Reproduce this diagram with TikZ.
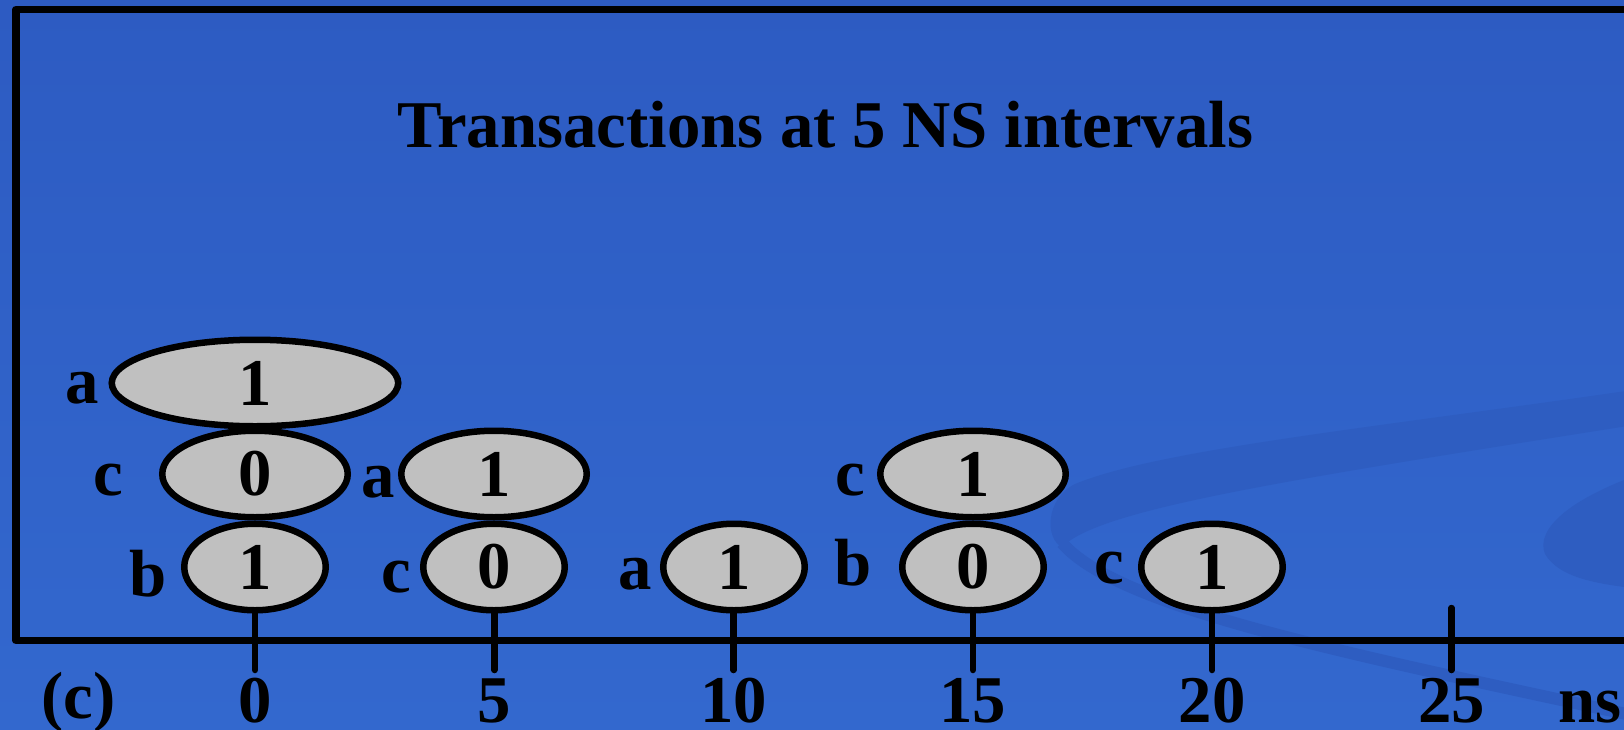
\documentclass[tikz,border=0pt]{standalone}
\usepackage{fontspec}
\setmainfont{Liberation Serif}
\usepackage{xcolor}
\usepackage{tikz}
\usetikzlibrary{shapes.geometric}

\definecolor{slidetop}{RGB}{45,91,194}
\definecolor{slidebot}{RGB}{51,104,206}
\definecolor{swoosh}{RGB}{46,93,193}
\definecolor{slotgray}{RGB}{192,192,192}

\begin{document}
\begin{tikzpicture}[
  big/.style={font=\fontsize{19}{23}\selectfont\bfseries},
  slot/.style={
    draw,
    ellipse,
    big,
    fill=slotgray,
    line width=0.65mm,
    minimum height=8.65mm,
    inner sep=0pt
  },
  smallslot/.style={slot, minimum width=14.15mm},
  midslot/.style={slot, minimum width=18.55mm},
  wideslot/.style={slot, minimum width=28.65mm},
  wirelabel/.style={big, anchor=base, inner sep=0pt},
  frame/.style={line width=0.75mm, line join=round},
  tickmark/.style={line width=0.65mm, line cap=round}
]

\path[use as bounding box] (0,0) rectangle (16.24,7.29);

% slide background
\fill[top color=slidetop, bottom color=slidebot] (0,0) rectangle (16.24,7.29);
\fill[swoosh] (16.4,3.40) .. controls (13.8,3.02) and (11.6,2.80) .. (10.75,2.45)
  .. controls (10.45,2.30) and (10.45,1.90) .. (10.62,1.82)
  .. controls (11.0,2.20) and (12.8,2.48) .. (16.4,3.05) -- cycle;
\draw[swoosh, line width=1.2mm] (10.62,1.86) .. controls (11.2,1.2) and (13.5,0.75) .. (16.4,0.12);
\fill[swoosh] (16.4,2.55) .. controls (15.7,2.30) and (15.35,2.00) .. (15.45,1.75)
  .. controls (15.6,1.50) and (16.0,1.45) .. (16.4,1.40) -- cycle;

\node[big, anchor=base] (heading) at (8.255,5.82) {Transactions at 5 NS intervals};

% time axis
\draw[frame] (16.5,7.195) -- (0.16,7.195) -- (0.16,0.885) -- (16.5,0.885);

\foreach \t [count=\i from 0] in {0,5,10,15,20,25} {
  \draw[tickmark] ({2.55+2.393*\i},1.21) -- ({2.55+2.393*\i},0.59);
  \node[wirelabel] (ns\t) at ({2.55+2.393*\i},0.065) {\t};
}
\node[wirelabel] (part) at (0.785,0.11) {(c)};
\node[wirelabel] (unit) at (15.90,0.065) {ns};

% transactions
\node[wideslot] (a0) at (2.55,3.46) {1};
\node[midslot] (c0) at (2.55,2.55) {0};
\node[smallslot] (b0) at (2.55,1.62) {1};

\node[midslot] (a5) at (4.94,2.55) {1};
\node[smallslot] (c5) at (4.94,1.62) {0};

\node[smallslot] (a10) at (7.34,1.62) {1};

\node[midslot] (c15) at (9.73,2.55) {1};
\node[smallslot] (b15) at (9.73,1.62) {0};

\node[smallslot] (c20) at (12.12,1.62) {1};

\node[wirelabel] (la0) at (0.82,3.26) {a};
\node[wirelabel] (lc0) at (1.08,2.34) {c};
\node[wirelabel] (lb0) at (1.48,1.33) {b};
\node[wirelabel] (la5) at (3.78,2.32) {a};
\node[wirelabel] (lc5) at (3.965,1.37) {c};
\node[wirelabel] (la10) at (6.35,1.40) {a};
\node[wirelabel] (lc15) at (8.50,2.34) {c};
\node[wirelabel] (lb15) at (8.53,1.44) {b};
\node[wirelabel] (lc20) at (11.09,1.46) {c};

\end{tikzpicture}
\end{document}
